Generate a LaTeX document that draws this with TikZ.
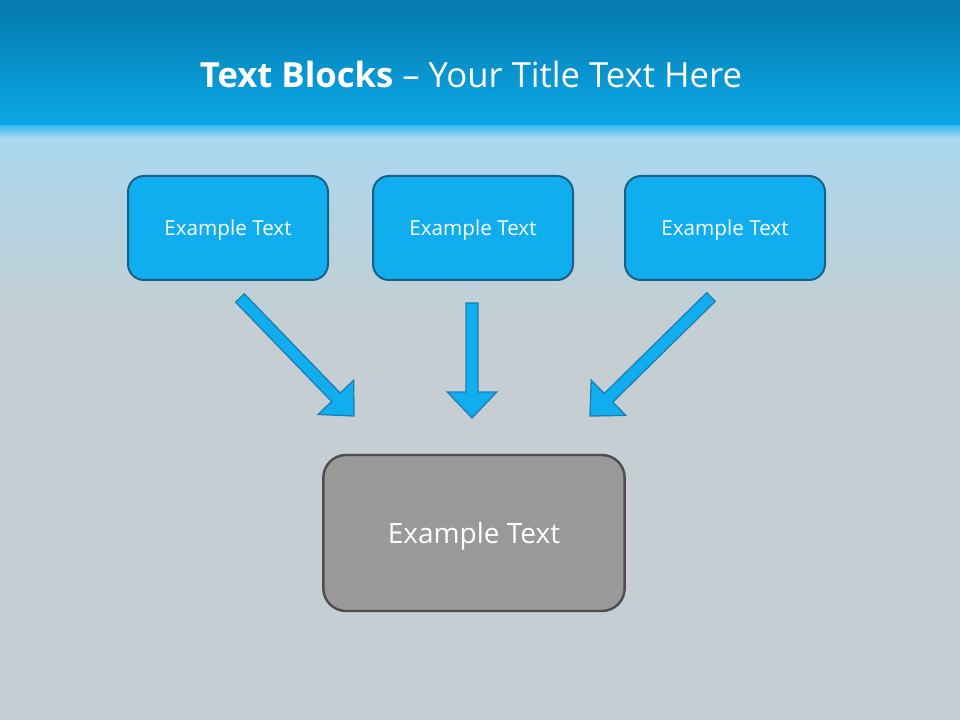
\documentclass[tikz,border=0pt]{standalone}
\usepackage{fontspec}
\setmainfont{Open Sans}
\usetikzlibrary{calc}
\definecolor{hdtop}{HTML}{0679AE}
\definecolor{hdbot}{HTML}{0AA9E8}
\definecolor{bandblue}{HTML}{3CBDF0}
\definecolor{paleblue}{HTML}{A9D7EE}
\definecolor{bggray}{HTML}{C5CED2}
\definecolor{boxfill}{HTML}{10AEEF}
\definecolor{boxline}{HTML}{1B5F82}
\definecolor{arrline}{HTML}{1E7FB5}
\definecolor{sumfill}{HTML}{999999}
\definecolor{sumline}{HTML}{4D4D4D}

% block arrow from #1 to #2, head centre named #3h
\newcommand{\blockarrow}[3]{%
  \coordinate (#3h) at ($(#2)!19.5pt!(#1)$);
  \filldraw[arrshape] ($(#1)!4.5pt!90:(#2)$) -- ($(#3h)!4.5pt!90:(#2)$)
    -- ($(#3h)!18.5pt!90:(#2)$) -- (#2) -- ($(#3h)!18.5pt!-90:(#2)$)
    -- ($(#3h)!4.5pt!-90:(#2)$) -- ($(#1)!4.5pt!-90:(#2)$) -- cycle;}

\begin{document}
\begin{tikzpicture}[x=0.75pt, y=-0.75pt,
  topbox/.style={rectangle, rounded corners=12pt, draw=boxline, fill=boxfill,
                 line width=1.5pt, minimum width=150pt, minimum height=78pt,
                 text depth=0pt, text=white, font=\fontsize{15.5}{18}\selectfont},
  sumbox/.style={rectangle, rounded corners=17pt, draw=sumline, fill=sumfill,
                 line width=1.8pt, minimum width=226pt, minimum height=117pt,
                 text depth=0pt, text=white, font=\fontsize{21}{25}\selectfont},
  arrshape/.style={fill=boxfill, draw=arrline, line width=1pt, line join=miter}
]
% background
\useasboundingbox (0,0) rectangle (960,720);
\fill[bggray] (0,0) rectangle (960,720);
\shade[top color=paleblue, bottom color=bggray] (0,135) rectangle (960,330);
\shade[top color=hdtop, bottom color=hdbot] (0,0) rectangle (960,126);
\shade[top color=bandblue, bottom color=paleblue] (0,126) rectangle (960,138);
\node[text=white, font=\fontsize{26}{30}\selectfont] (title) at (471,75)
  {\textbf{Text Blocks} -- Your Title Text Here};

% blocks
\node[topbox] (b1) at (228,228) {Example Text};
\node[topbox] (b2) at (473,228) {Example Text};
\node[topbox] (b3) at (725,228) {Example Text};
\node[sumbox] (sum) at (474,533) {Example Text};

% arrows
\coordinate (a1s) at (240,298);
\coordinate (a1e) at (354,416);
\coordinate (a2s) at (472,303);
\coordinate (a2e) at (472,418);
\coordinate (a3s) at (711,297);
\coordinate (a3e) at (590,416);
\blockarrow{a1s}{a1e}{a1}
\blockarrow{a2s}{a2e}{a2}
\blockarrow{a3s}{a3e}{a3}
\end{tikzpicture}
\end{document}
